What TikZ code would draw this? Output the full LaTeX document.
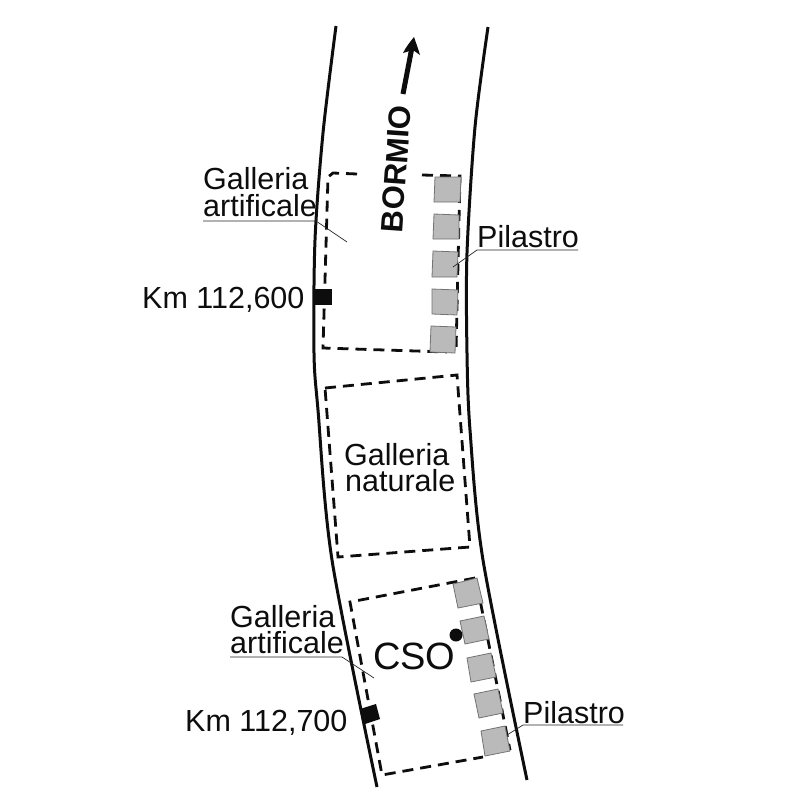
\documentclass[tikz,border=0pt]{standalone}
\usepackage{fontspec}
\setmainfont{Liberation Sans}
\begin{document}
\begin{tikzpicture}[x=1pt,y=-1pt,
  road/.style={line width=3pt,black!95},
  dashline/.style={line width=2.8pt,black!95,dash pattern=on 11pt off 7pt},
  pier/.style={fill=black!27,draw=black!55,line width=0.8pt},
  mark box/.style={fill=black!95,draw=none},
  lbl/.style={anchor=base west,inner sep=0pt,font=\fontsize{30.5}{32}\selectfont,text=black!95},
  leader/.style={line width=0.7pt,black!85}]
\useasboundingbox (0,0) rectangle (787,788);
\fill[white] (0,0) rectangle (787,788);
% road edges
\draw[road] plot[smooth,tension=0.5] coordinates {(336,26) (323,133) (315,240) (314,353) (318,410) (332,560) (377,787)};
\draw[road] plot[smooth,tension=0.5] coordinates {(488,27) (475,127) (467,253) (467,353) (470,430) (483,560) (527,780)};
% dashed outlines
\draw[dashline] (357,174) -- (333,173) -- (328,177) -- (323,348) -- (447,352);
\draw[dashline] (422,175) -- (460,176) -- (456,352);
\draw[dashline] (325,388) -- (457,375) -- (470,547) -- (338,557) -- cycle;
\draw[dashline] (475,578) -- (350,602) -- (382,775) -- (483,757);
\draw[dashline] (477,585) -- (510,750);
% piers
\foreach \a/\b/\c/\d in {
 {(435,177)}/{(461,177)}/{(460,202)}/{(434,202)},
 {(434,214)}/{(459,215)}/{(459,239)}/{(433,239)},
 {(433,251)}/{(458,252)}/{(457,277)}/{(432,277)},
 {(432,289)}/{(458,290)}/{(457,315)}/{(432,314)},
 {(431,326)}/{(456,327)}/{(455,353)}/{(430,352)},
 {(453,584)}/{(477,578)}/{(483,603)}/{(458,608)},
 {(460,621)}/{(484,616)}/{(489,639)}/{(465,644)},
 {(467,658)}/{(491,653)}/{(496,677)}/{(471,682)},
 {(474,694)}/{(498,689)}/{(503,713)}/{(479,718)},
 {(481,731)}/{(505,726)}/{(510,751)}/{(485,756)}}
 {\draw[pier] \a -- \b -- \c -- \d -- cycle;}
% markers
\fill[mark box] (315,289) rectangle (332,305);
\fill[mark box] (360,709) -- (376,704) -- (380,719) -- (365,724) -- cycle;
\fill[mark box] (456,635) circle (6.5);
% direction arrow
\coordinate (arrowtail) at (403,94);
\coordinate (arrowhead) at (413,42);
\draw[line width=5pt,black!95] (arrowtail) -- (arrowhead);
\fill[black!95] (414,37) .. controls (416,43) and (418,48) .. (420,55) -- (413,50) -- (403,53) .. controls (406,47) and (410,42) .. (414,37) -- cycle;
% labels
\node[anchor=center,inner sep=0pt,rotate=86,font=\fontsize{31}{32}\selectfont\bfseries,text=black!95] (bormio) at (396,169) {BORMIO};
\node[lbl] (ga1a) at (203,189) {Galleria};
\node[lbl] (ga1b) at (203,216) {artificale};
\node[lbl] (km1) at (142,308) {Km 112,600};
\node[lbl] (pil1) at (477,247) {Pilastro};
\node[lbl] (gn1) at (344,465) {Galleria};
\node[lbl] (gn2) at (345,491) {naturale};
\node[lbl] (ga2a) at (230,627) {Galleria};
\node[lbl] (ga2b) at (230,653) {artificale};
\node[lbl,font=\fontsize{38}{40}\selectfont] (cso) at (373,669) {CSO};
\node[lbl] (km2) at (185,731) {Km 112,700};
\node[lbl] (pil2) at (523,723) {Pilastro};
% leaders
\coordinate (l1a) at (203,221); \coordinate (l1b) at (316,221); \coordinate (l1c) at (347,242);
\coordinate (l2a) at (578,250); \coordinate (l2b) at (477,250); \coordinate (l2c) at (453,267);
\coordinate (l3a) at (230,657); \coordinate (l3b) at (342,657); \coordinate (l3c) at (374,678);
\coordinate (l4a) at (623,725); \coordinate (l4b) at (523,725); \coordinate (l4c) at (507,735);
\draw[leader] (l1a) -- (l1b) -- (l1c);
\draw[leader] (l2a) -- (l2b) -- (l2c);
\draw[leader] (l3a) -- (l3b) -- (l3c);
\draw[leader] (l4a) -- (l4b) -- (l4c);
\end{tikzpicture}
\end{document}
